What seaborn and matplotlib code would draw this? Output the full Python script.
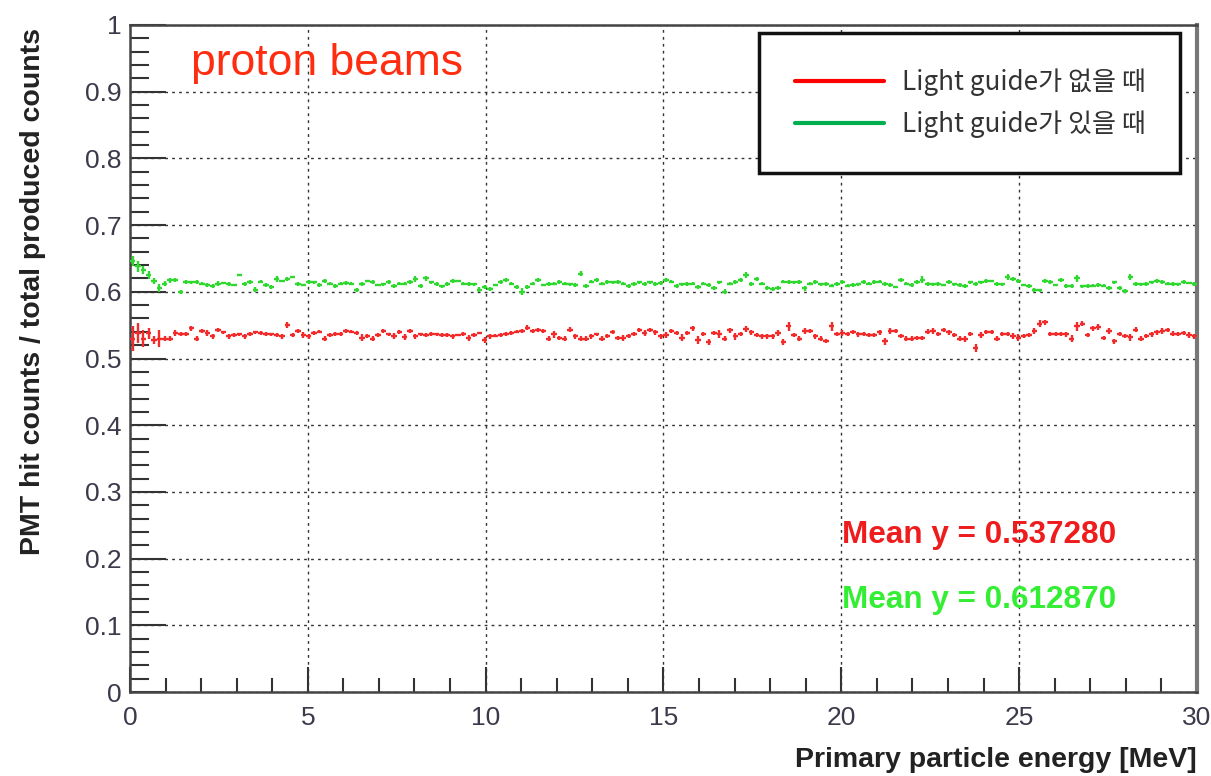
import numpy as np
import seaborn as sns
import matplotlib
matplotlib.use('Agg')
import matplotlib.pyplot as plt
from matplotlib.lines import Line2D
from matplotlib.ticker import MultipleLocator

# 200 bins of 0.15 MeV between 0 and 30 MeV
n_bins = 200
e_min, e_max = 0, 30

# ratio with light guide (green)
ratio_with = [
    0.646, 0.638, 0.632, 0.625, 0.616, 0.606, 0.612, 0.617, 0.618, 0.600,
    0.614, 0.614, 0.615, 0.612, 0.610, 0.608, 0.612, 0.613, 0.612, 0.610,
    0.625, 0.612, 0.614, 0.603, 0.615, 0.610, 0.607, 0.619, 0.616, 0.619,
    0.622, 0.612, 0.610, 0.614, 0.614, 0.610, 0.616, 0.612, 0.608, 0.612,
    0.613, 0.612, 0.603, 0.612, 0.616, 0.614, 0.610, 0.611, 0.614, 0.609,
    0.612, 0.612, 0.614, 0.619, 0.609, 0.620, 0.614, 0.611, 0.608, 0.611,
    0.616, 0.616, 0.612, 0.611, 0.611, 0.603, 0.607, 0.604, 0.610, 0.615,
    0.617, 0.612, 0.607, 0.600, 0.607, 0.612, 0.617, 0.610, 0.611, 0.612,
    0.614, 0.612, 0.611, 0.610, 0.627, 0.608, 0.615, 0.617, 0.612, 0.615,
    0.614, 0.614, 0.612, 0.608, 0.611, 0.614, 0.612, 0.614, 0.611, 0.613,
    0.617, 0.615, 0.609, 0.611, 0.612, 0.612, 0.607, 0.612, 0.610, 0.606,
    0.614, 0.600, 0.612, 0.614, 0.617, 0.625, 0.611, 0.619, 0.612, 0.606,
    0.604, 0.606, 0.615, 0.614, 0.614, 0.615, 0.605, 0.612, 0.614, 0.611,
    0.611, 0.609, 0.612, 0.615, 0.609, 0.610, 0.611, 0.614, 0.612, 0.614,
    0.615, 0.611, 0.610, 0.607, 0.617, 0.612, 0.610, 0.615, 0.618, 0.611,
    0.611, 0.612, 0.610, 0.614, 0.611, 0.610, 0.608, 0.614, 0.612, 0.614,
    0.616, 0.616, 0.612, 0.611, 0.622, 0.619, 0.616, 0.610, 0.608, 0.603,
    0.602, 0.616, 0.615, 0.610, 0.618, 0.608, 0.608, 0.620, 0.608, 0.609,
    0.609, 0.610, 0.609, 0.606, 0.614, 0.605, 0.601, 0.622, 0.612, 0.611,
    0.612, 0.614, 0.616, 0.614, 0.612, 0.612, 0.611, 0.614, 0.613, 0.611,
]
err_with = [
    0.008, 0.008, 0.006, 0.006, 0.005, 0.006, 0.004, 0.004, 0.003, 0.003,
    0.003, 0.002, 0.003, 0.002, 0.003, 0.003, 0.004, 0.002, 0.003, 0.002,
    0.002, 0.003, 0.003, 0.004, 0.002, 0.003, 0.003, 0.004, 0.002, 0.003,
    0.002, 0.003, 0.002, 0.003, 0.002, 0.003, 0.003, 0.002, 0.003, 0.002,
    0.003, 0.002, 0.003, 0.003, 0.002, 0.003, 0.002, 0.002, 0.003, 0.003,
    0.002, 0.002, 0.003, 0.004, 0.003, 0.004, 0.002, 0.003, 0.002, 0.003,
    0.003, 0.002, 0.002, 0.003, 0.002, 0.004, 0.003, 0.003, 0.002, 0.003,
    0.003, 0.002, 0.003, 0.005, 0.003, 0.002, 0.003, 0.002, 0.003, 0.002,
    0.003, 0.002, 0.002, 0.003, 0.004, 0.003, 0.002, 0.003, 0.002, 0.003,
    0.002, 0.003, 0.002, 0.003, 0.003, 0.002, 0.003, 0.002, 0.003, 0.003,
    0.003, 0.002, 0.003, 0.002, 0.003, 0.002, 0.003, 0.002, 0.003, 0.003,
    0.002, 0.004, 0.002, 0.003, 0.003, 0.004, 0.003, 0.003, 0.002, 0.003,
    0.003, 0.003, 0.002, 0.003, 0.002, 0.003, 0.004, 0.002, 0.003, 0.002,
    0.003, 0.002, 0.003, 0.003, 0.002, 0.003, 0.002, 0.003, 0.002, 0.003,
    0.002, 0.003, 0.003, 0.002, 0.003, 0.002, 0.003, 0.003, 0.005, 0.003,
    0.002, 0.003, 0.002, 0.003, 0.002, 0.003, 0.003, 0.002, 0.003, 0.002,
    0.003, 0.002, 0.003, 0.002, 0.004, 0.003, 0.003, 0.002, 0.003, 0.003,
    0.002, 0.003, 0.003, 0.002, 0.003, 0.003, 0.003, 0.005, 0.002, 0.003,
    0.002, 0.003, 0.002, 0.003, 0.002, 0.003, 0.003, 0.004, 0.003, 0.002,
    0.003, 0.002, 0.003, 0.003, 0.002, 0.003, 0.002, 0.003, 0.002, 0.003,
]

# ratio without light guide (red)
ratio_without = [
    0.530, 0.538, 0.530, 0.538, 0.528, 0.530, 0.530, 0.530, 0.538, 0.536,
    0.536, 0.545, 0.530, 0.541, 0.538, 0.533, 0.543, 0.539, 0.533, 0.535,
    0.536, 0.533, 0.536, 0.539, 0.538, 0.536, 0.536, 0.535, 0.533, 0.550,
    0.535, 0.541, 0.535, 0.533, 0.538, 0.540, 0.530, 0.535, 0.536, 0.536,
    0.541, 0.540, 0.538, 0.531, 0.534, 0.530, 0.535, 0.541, 0.536, 0.534,
    0.540, 0.532, 0.541, 0.533, 0.536, 0.535, 0.536, 0.536, 0.535, 0.535,
    0.533, 0.535, 0.536, 0.531, 0.535, 0.538, 0.528, 0.533, 0.534, 0.535,
    0.536, 0.538, 0.540, 0.541, 0.546, 0.541, 0.543, 0.541, 0.530, 0.536,
    0.531, 0.530, 0.543, 0.533, 0.530, 0.530, 0.533, 0.536, 0.530, 0.534,
    0.539, 0.531, 0.531, 0.534, 0.536, 0.543, 0.538, 0.543, 0.539, 0.533,
    0.535, 0.541, 0.538, 0.531, 0.538, 0.545, 0.528, 0.536, 0.525, 0.538,
    0.537, 0.530, 0.542, 0.533, 0.536, 0.544, 0.539, 0.535, 0.533, 0.533,
    0.533, 0.538, 0.525, 0.548, 0.535, 0.530, 0.541, 0.541, 0.533, 0.530,
    0.526, 0.548, 0.536, 0.538, 0.536, 0.539, 0.536, 0.537, 0.535, 0.535,
    0.539, 0.526, 0.541, 0.541, 0.534, 0.530, 0.530, 0.531, 0.531, 0.540,
    0.541, 0.536, 0.542, 0.539, 0.535, 0.530, 0.529, 0.536, 0.516, 0.535,
    0.539, 0.539, 0.530, 0.536, 0.536, 0.534, 0.531, 0.534, 0.535, 0.541,
    0.552, 0.554, 0.536, 0.536, 0.536, 0.536, 0.530, 0.548, 0.552, 0.535,
    0.545, 0.547, 0.531, 0.541, 0.526, 0.536, 0.534, 0.532, 0.543, 0.530,
    0.534, 0.536, 0.539, 0.541, 0.542, 0.537, 0.536, 0.538, 0.535, 0.533,
]
err_without = [
    0.019, 0.015, 0.012, 0.008, 0.006, 0.012, 0.004, 0.003, 0.004, 0.003,
    0.003, 0.004, 0.003, 0.003, 0.004, 0.003, 0.003, 0.002, 0.004, 0.003,
    0.002, 0.003, 0.003, 0.002, 0.003, 0.003, 0.002, 0.003, 0.003, 0.004,
    0.003, 0.003, 0.004, 0.003, 0.003, 0.002, 0.004, 0.003, 0.003, 0.003,
    0.003, 0.002, 0.003, 0.005, 0.003, 0.004, 0.003, 0.003, 0.002, 0.004,
    0.003, 0.004, 0.003, 0.003, 0.002, 0.003, 0.003, 0.002, 0.003, 0.003,
    0.003, 0.002, 0.003, 0.004, 0.003, 0.002, 0.004, 0.003, 0.002, 0.003,
    0.003, 0.003, 0.002, 0.003, 0.004, 0.003, 0.003, 0.003, 0.003, 0.005,
    0.003, 0.004, 0.004, 0.003, 0.003, 0.003, 0.004, 0.002, 0.004, 0.003,
    0.003, 0.003, 0.004, 0.003, 0.003, 0.003, 0.004, 0.003, 0.004, 0.003,
    0.004, 0.003, 0.003, 0.005, 0.003, 0.004, 0.006, 0.003, 0.005, 0.003,
    0.006, 0.003, 0.004, 0.005, 0.003, 0.005, 0.004, 0.003, 0.003, 0.004,
    0.003, 0.004, 0.005, 0.007, 0.003, 0.003, 0.004, 0.003, 0.003, 0.004,
    0.003, 0.007, 0.003, 0.004, 0.003, 0.003, 0.004, 0.003, 0.003, 0.003,
    0.004, 0.005, 0.004, 0.003, 0.003, 0.004, 0.003, 0.003, 0.003, 0.004,
    0.004, 0.003, 0.003, 0.004, 0.003, 0.003, 0.004, 0.003, 0.006, 0.004,
    0.003, 0.003, 0.004, 0.003, 0.003, 0.004, 0.005, 0.003, 0.003, 0.004,
    0.005, 0.004, 0.003, 0.003, 0.003, 0.004, 0.005, 0.007, 0.004, 0.003,
    0.004, 0.004, 0.003, 0.004, 0.004, 0.003, 0.003, 0.005, 0.004, 0.003,
    0.003, 0.004, 0.004, 0.005, 0.003, 0.004, 0.003, 0.003, 0.004, 0.003,
]

legend_labels = ['Light guide가 없을 때', 'Light guide가 있을 때']
mean_labels = ['Mean y = 0.537280', 'Mean y = 0.612870']
title_text = 'proton beams'
x_label = 'Primary particle energy [MeV]'
y_label = 'PMT hit counts / total produced counts'

red = '#f22a2a'
green = '#2fd82f'

sns.set_style('white')
plt.rcParams['font.family'] = ['Liberation Sans', 'DejaVu Sans']

edges = np.linspace(e_min, e_max, n_bins + 1)
centers = (edges[:-1] + edges[1:]) / 2
half_w = (edges[1] - edges[0]) / 2

fig = plt.figure(figsize=(12.11, 7.76), dpi=100)
ax = fig.add_axes([0.1073, 0.1082, 0.8811, 0.8596])

ax.errorbar(centers, ratio_without, xerr=half_w, yerr=err_without, fmt='none',
            ecolor=red, elinewidth=1.7, capsize=0, zorder=3)
ax.errorbar(centers, ratio_with, xerr=half_w, yerr=err_with, fmt='none',
            ecolor=green, elinewidth=1.7, capsize=0, zorder=3)

ax.set_xlim(0, 30)
ax.set_ylim(0, 1)
ax.xaxis.set_major_locator(MultipleLocator(5))
ax.xaxis.set_minor_locator(MultipleLocator(1))
ax.yaxis.set_major_locator(MultipleLocator(0.1))
ax.yaxis.set_minor_locator(MultipleLocator(0.02))
ax.set_yticks(np.arange(0, 1.01, 0.1))
ax.set_yticklabels(['0', '0.1', '0.2', '0.3', '0.4', '0.5', '0.6', '0.7', '0.8', '0.9', '1'])

ax.grid(True, which='major', color='#333333', linestyle=(0, (2, 3)), linewidth=1)
ax.tick_params(axis='both', which='both', direction='in', colors='#333333',
               labelcolor='#3a3a4a', labelsize=19, width=1.5,
               bottom=True, left=True, top=False, right=False)
ax.tick_params(axis='y', which='major', length=26, pad=6)
ax.tick_params(axis='y', which='minor', length=14)
ax.tick_params(axis='x', which='major', length=18, pad=10)
ax.tick_params(axis='x', which='minor', length=10)
for side in ['left', 'bottom', 'top', 'right']:
    ax.spines[side].set_color('#444444')
    ax.spines[side].set_linewidth(1.8)
ax.spines['right'].set_linewidth(3)
ax.spines['right'].set_color('#777777')

ax.set_xlabel(x_label, fontsize=20.5, fontweight='bold', color='#222222')
ax.xaxis.set_label_coords(1.0, -0.083)
ax.xaxis.label.set_horizontalalignment('right')
ax.set_ylabel(y_label, fontsize=20.5, fontweight='bold', color='#222222')
ax.yaxis.set_label_coords(-0.079, 0.995)
ax.yaxis.label.set_horizontalalignment('right')

ax.text(0.057, 0.942, title_text, transform=ax.transAxes, fontsize=32,
        color='#ff2d10', va='center')
ax.text(0.667, 0.236, mean_labels[0], transform=ax.transAxes, fontsize=22.7,
        fontweight='bold', color='#ee1c1c', va='center')
ax.text(0.667, 0.138, mean_labels[1], transform=ax.transAxes, fontsize=22.7,
        fontweight='bold', color='#33ee33', va='center')

handles = [Line2D([], [], color='#ff0000', lw=3),
           Line2D([], [], color='#00b050', lw=3)]
leg = ax.legend(handles, legend_labels, loc='upper left',
                bbox_to_anchor=(0.590, 0.778, 0.394, 0.21), mode='expand',
                borderaxespad=0, handlelength=3.4, handletextpad=0.7,
                labelspacing=0.55, borderpad=1.35, fancybox=False, framealpha=1,
                edgecolor='#111111', labelcolor='#333333',
                prop={'family': ['Noto Sans CJK KR', 'DejaVu Sans'], 'size': 18.8})
leg.get_frame().set_linewidth(2.5)

fig.savefig('out.png', dpi=100)
